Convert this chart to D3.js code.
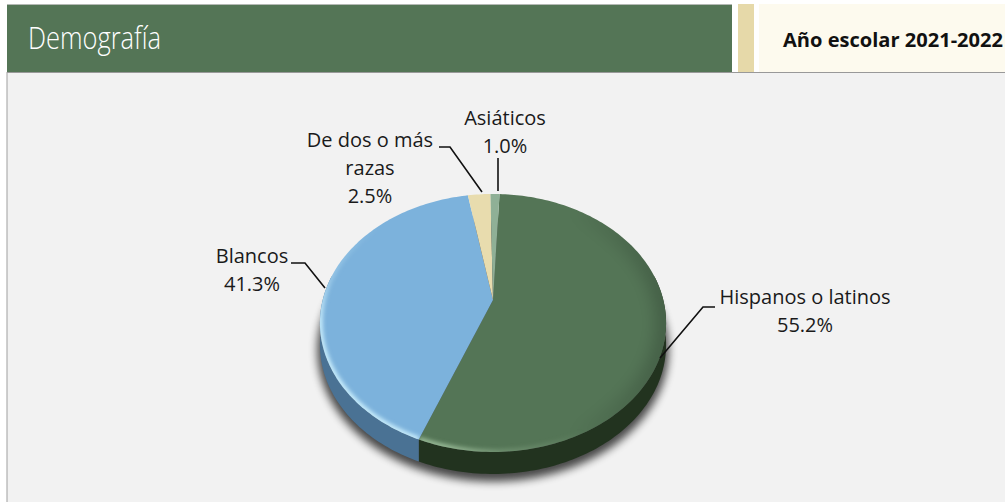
<!DOCTYPE html>
<html><head><meta charset="utf-8">
<script src="https://cdn.jsdelivr.net/npm/d3@7"></script>
<style>
html,body{margin:0;padding:0;background:#fff;overflow:hidden}
text{font-family:"Open Sans","Noto Sans",sans-serif;fill:#1a1a1a}
</style></head><body>
<svg id="c" width="1005" height="502"></svg>
<script>
const categories=["Hispanos o latinos","Blancos","De dos o más razas","Asiáticos"];
const values=[55.2,41.3,2.5,1.0];
const labelLines=[["Hispanos o latinos","55.2%"],["Blancos","41.3%"],["De dos o más","razas","2.5%"],["Asiáticos","1.0%"]];
const topColors=["#547556","#7cb2dc","#e8dcae","#8fb096"];
const sideColors=["#22331f","#4a7294","#a89f78","#607a66"];
const rimColors=["#a3c4a0","#d2f4ff","#fff6d8","#cfe6d4"];
const headerTitle="Demografía", headerYear="Año escolar 2021-2022";

const svg=d3.select("#c"), defs=svg.append("defs");
svg.append("rect").attr("x",7).attr("y",73).attr("width",998).attr("height",429).attr("fill","#f2f2f2");
svg.append("rect").attr("x",7).attr("y",72).attr("width",998).attr("height",1).attr("fill","#999");
svg.append("rect").attr("x",6.5).attr("y",72).attr("width",1).attr("height",430).attr("fill","#a0a0a0");
svg.append("rect").attr("x",7).attr("y",4).attr("width",725).attr("height",68).attr("fill","#547556");
svg.append("rect").attr("x",7).attr("y",4).attr("width",725).attr("height",1).attr("fill","#b4b9b4");
svg.append("rect").attr("x",738).attr("y",4).attr("width",16).attr("height",68).attr("fill","#e6d9a9");
svg.append("rect").attr("x",759).attr("y",4).attr("width",246).attr("height",68).attr("fill","#fdfaee");
svg.append("text").text(headerTitle).attr("x",28).attr("y",49).attr("font-size",31).attr("font-weight",300)
  .attr("textLength",133).attr("lengthAdjust","spacingAndGlyphs").style("fill","#fff");
svg.append("text").text(headerYear).attr("x",783).attr("y",47).attr("font-size",19).attr("font-weight",700)
  .attr("textLength",220).attr("lengthAdjust","spacingAndGlyphs").style("fill","#111");

const apex={x:493,y:300}, A=170.3, B=124.9, P=0.178, depth=22;
const proj=(a,r=1)=>{const u=Math.sin(a)*r,v=-Math.cos(a)*r,w=1-P*v;return [apex.x+A*u/w,apex.y+B*v/w];};
const sweep=(a0,a1,r=1)=>{const n=Math.max(2,Math.ceil(Math.abs(a1-a0)/0.02));return d3.range(n+1).map(i=>proj(a0+(a1-a0)*i/n,r));};
const line=d3.line();
const start=2.6*Math.PI/180;
const arcs=d3.pie().sort(null).startAngle(start).endAngle(start+2*Math.PI)(values);

const f=defs.append("filter").attr("id","shadow").attr("x","-20%").attr("y","-20%").attr("width","140%").attr("height","140%");
f.append("feGaussianBlur").attr("stdDeviation",4.5);
const f2=defs.append("filter").attr("id","rim").attr("x","-10%").attr("y","-10%").attr("width","120%").attr("height","120%");
f2.append("feGaussianBlur").attr("stdDeviation",2);
const f3=defs.append("filter").attr("id","soft").attr("x","-10%").attr("y","-10%").attr("width","120%").attr("height","120%");
f3.append("feGaussianBlur").attr("stdDeviation",9);
const rimG=defs.append("linearGradient").attr("id","rimFade").attr("gradientUnits","userSpaceOnUse")
  .attr("x1",350).attr("y1",430).attr("x2",480).attr("y2",300);
[[0,1],[.3,.9],[.5,.35],[.9,0]].forEach(([o,a])=>rimG.append("stop").attr("offset",o).attr("stop-color","#fff").attr("stop-opacity",a));
defs.append("mask").attr("id","rimMask").attr("maskUnits","userSpaceOnUse").attr("x",0).attr("y",0).attr("width",1005).attr("height",502)
  .append("rect").attr("x",0).attr("y",0).attr("width",1005).attr("height",502).attr("fill","url(#rimFade)");
const darkG=defs.append("linearGradient").attr("id","darkFade").attr("gradientUnits","userSpaceOnUse")
  .attr("x1",570).attr("y1",300).attr("x2",665).attr("y2",300);
darkG.append("stop").attr("offset",0).attr("stop-color","#000").attr("stop-opacity",0);
darkG.append("stop").attr("offset",1).attr("stop-color","#000").attr("stop-opacity",.28);

const outline=sweep(0,2*Math.PI);
const cx=493, cy=323;
svg.append("path").attr("d",line(outline.map(([x,y])=>[cx+(x-cx)*1.015,cy+(y-cy)*1.02+depth+5]))+"Z")
  .attr("fill","#000").attr("opacity",.7).attr("filter","url(#shadow)");

const g=svg.append("g");
arcs.forEach((d,i)=>{
  const a0=Math.max(d.startAngle,Math.PI/2-0.2), a1=Math.min(d.endAngle,3*Math.PI/2+0.2);
  if(a1<=a0) return;
  const t=sweep(a0,a1), b=t.map(([x,y])=>[x,y+depth]).reverse();
  g.append("path").attr("d",line(t.concat(b))+"Z").attr("fill",sideColors[i]);
});
arcs.forEach((d,i)=>{
  const pts=[[apex.x,apex.y]].concat(sweep(d.startAngle,d.endAngle));
  const id="clip"+i, path=line(pts)+"Z";
  defs.append("clipPath").attr("id",id).append("path").attr("d",path);
  g.append("path").attr("d",path).attr("fill",topColors[i]);
  const c=g.append("g").attr("clip-path",`url(#${id})`);
  c.append("path").attr("d",line(sweep(d.startAngle,d.endAngle))).attr("fill","none")
   .attr("stroke","url(#darkFade)").attr("stroke-width",14).attr("filter","url(#soft)");
  c.append("g").attr("mask","url(#rimMask)").append("path").attr("d",line(sweep(d.startAngle,d.endAngle))).attr("fill","none")
   .attr("stroke",rimColors[i]).attr("stroke-width",5.5).attr("filter","url(#rim)");
});

const leaders=[[[660,358],[703,307],[715,307]],[[325,288],[305,263],[291,263]],[[482,192],[450,147],[439,147]],[[498,191],[498,158]]];
const labels=[{x:805,y:304},{x:252,y:263},{x:370,y:147},{x:505,y:125}];
const lh=[28,28,28,28];
leaders.forEach(l=>svg.append("path").attr("d",line(l)).attr("fill","none").attr("stroke","#111").attr("stroke-width",1.6));
labelLines.forEach((ls,i)=>{
  const t=svg.append("text").attr("text-anchor","middle").attr("font-size",20);
  ls.forEach((s,j)=>t.append("tspan").attr("x",labels[i].x).attr("y",labels[i].y+j*lh[i]).text(s));
});
</script></body></html>
